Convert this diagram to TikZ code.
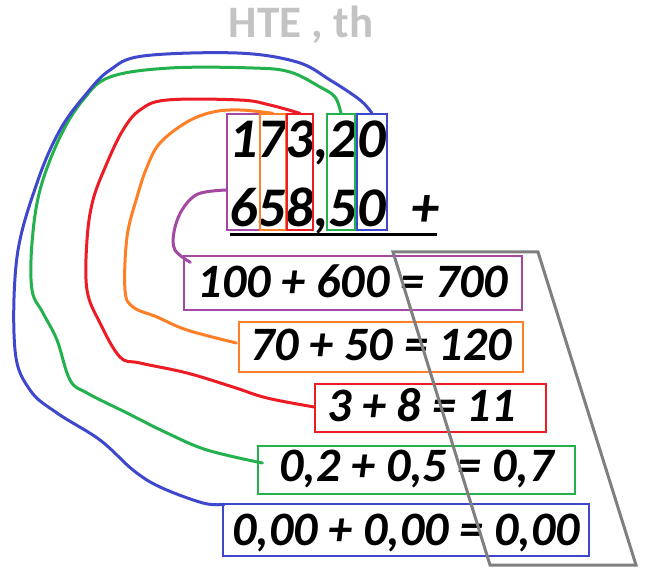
\documentclass[tikz,border=0pt]{standalone}
\usepackage{fontspec}
\setmainfont{Carlito}
\usepackage{xcolor}
\usepackage{tikz}
\usetikzlibrary{calc}
\definecolor{pviolet}{HTML}{A349A4}
\definecolor{porange}{HTML}{FF7F27}
\definecolor{pred}{HTML}{ED1C24}
\definecolor{pgreen}{HTML}{22B14C}
\definecolor{pblue}{HTML}{3F48CC}
\definecolor{pgray}{HTML}{7F7F7F}
\definecolor{ptitle}{HTML}{C3C3C3}

\begin{document}
\begin{tikzpicture}[x=1pt,y=-1pt,
		num/.style={inner sep=0pt,anchor=base west,font=\fontsize{56}{66}\selectfont\bfseries\itshape},
		colbox/.style={draw=#1,line width=1.3pt,inner sep=0pt,minimum height=116pt},
		eqbox/.style={draw=#1,line width=1.3pt,text height=30pt,text depth=0pt,inner sep=0pt,
			font=\fontsize{48}{58}\selectfont\bfseries\itshape},
		wire/.style={line width=3pt,line cap=round,line join=round}]
	\useasboundingbox (0,0) rectangle (656,580);

	\node[anchor=base,text=ptitle,font=\fontsize{45}{54}\selectfont\bfseries] (title) at (301,38) {HTE , th};

	\node[num] (top) at (229,158) {173,20};
	\node[num] (bottom) at (229,227) {658,50};
	\node[num] (plus) at (411,227) {+};
	\draw[line width=3pt] (230,235) -- (437,235);

	\node[colbox=pviolet,minimum width=33pt] (c1) at (243.5,172) {};
	\node[colbox=porange,minimum width=26pt] (c2) at (273,172) {};
	\node[colbox=pred,minimum width=26pt] (c3) at (300,172) {};
	\node[colbox=pgreen,minimum width=28pt] (c4) at (341,172) {};
	\node[colbox=pblue,minimum width=30pt] (c5) at (372,172) {};

	\node[eqbox=pviolet,minimum width=338pt,minimum height=54pt] (e1) at (353,283) {100 + 600 = 700};
	\node[eqbox=porange,minimum width=284pt,minimum height=50pt,text depth=3pt] (e2) at (381,347) {70 + 50 = 120};
	\node[eqbox=pred,minimum width=231pt,minimum height=48pt,text depth=4pt] (e3) at (430.5,408) {\makebox[207pt][l]{3 + 8 = 11}};
	\node[eqbox=pgreen,minimum width=317pt,minimum height=48pt,text depth=8pt] (e4) at (416.5,470) {0,2 + 0,5 = 0,7};
	\node[eqbox=pblue,minimum width=366pt,minimum height=52pt] (e5) at (406,530) {0,00 + 0,00 = 0,00};

	\draw[pviolet,wire] plot[smooth,tension=0.6] coordinates {($(c1.west)+(0,18)$) (198,194) (182,210) (174,232) (175,250) ($(e1.north west)+(7,7)$)};
	\draw[porange,wire] plot[smooth,tension=0.6] coordinates {(c2.north) (240,110) (213,112) (187,122) (160,143) (147,167) (137,197) (127,237) (125,290) (133,307) (157,317) (187,330) ($(e2.west)+(-2,-4)$)};
	\draw[pred,wire] plot[smooth,tension=0.6] coordinates {(c3.north) (270,105) (240,100) (167,100) (140,110) (123,130) (107,163) (93,200) (87,240) (87,290) (100,323) (120,357) (140,363) (187,373) (233,387) (267,398) ($(e3.west)+(0,-1)$)};
	\draw[pgreen,wire] plot[smooth,tension=0.6] coordinates {(c4.north) (335,97) (320,87) (290,72) (253,68) (170,68) (110,77) (83,100) (60,137) (40,190) (32,243) (32,290) (43,313) (57,340) (70,380) (87,393) (127,413) (167,433) (207,450) ($(e4.west)+(5,-7)$)};
	\draw[pblue,wire] plot[smooth,tension=0.6] coordinates {(c5.north) (360,100) (330,80) (297,62) (237,53) (143,56) (110,70) (87,93) (60,130) (37,183) (17,257) (15,350) (30,390) (57,413) (100,440) (133,470) (160,487) (203,503) ($(e5.north west)+(2,1)$)};

	\draw[pgray,line width=3pt] (393,252) -- (538,252) -- (636,565) -- (490,565) -- cycle;
\end{tikzpicture}
\end{document}
